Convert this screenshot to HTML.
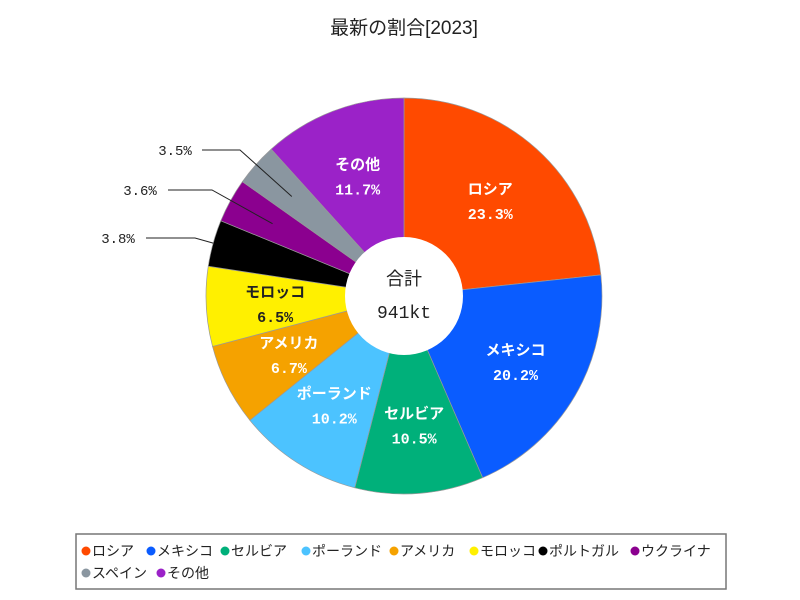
<!DOCTYPE html>
<html><head><meta charset="utf-8">
<style>
body{margin:0;background:#fff;font-family:"Liberation Sans","Noto Sans CJK JP",sans-serif;}
#wrap{position:relative;width:800px;height:600px;overflow:hidden;}
</style></head>
<body>
<div id="wrap">
<svg id="svg" width="800" height="600" xmlns="http://www.w3.org/2000/svg">
<text x="404" y="34" text-anchor="middle" font-size="19" fill="#222" font-family="Liberation Sans, Noto Sans CJK JP, sans-serif">最新の割合[2023]</text>
<g id="slices"></g>
<circle cx="404" cy="296" r="59" fill="#fff"/>
<text x="404" y="285" text-anchor="middle" font-size="18" fill="#222" font-family="Liberation Sans, Noto Sans CJK JP, sans-serif">合計</text>
<text x="404" y="318" text-anchor="middle" font-size="18" fill="#222" font-family="Liberation Mono, monospace">941kt</text>
<g id="labels"></g>
<rect x="76" y="534" width="650" height="55" fill="#fff" stroke="#777" stroke-width="1.5"/>
<g id="legend"></g>
</svg>
</div>
<script>
const categories=["ロシア","メキシコ","セルビア","ポーランド","アメリカ","モロッコ","ポルトガル","ウクライナ","スペイン","その他"];
const values=[23.3,20.2,10.5,10.2,6.7,6.5,3.8,3.6,3.5,11.7];
const colors=["#ff4a00","#0a5cff","#00b07a","#4cc3ff","#f5a200","#fff000","#000000","#8b008f","#8a96a0","#9b22c8"];
const ns="http://www.w3.org/2000/svg";
const cx=404,cy=296,R=198,LR=129;
const slices=document.getElementById('slices'),labels=document.getElementById('labels'),legend=document.getElementById('legend');
const total=values.reduce((a,b)=>a+b,0);
function pt(a,r){return [cx+r*Math.sin(a),cy-r*Math.cos(a)];}
let a0=0;
const outside=[[175,150,202,240,150],[140,190,168,212,190],[118,238,146,195,238]];
let oi=0;
values.forEach((v,i)=>{
  const a1=a0+v/total*2*Math.PI;
  const p0=pt(a0,R),p1=pt(a1,R);
  const path=document.createElementNS(ns,'path');
  path.setAttribute('d',`M${cx},${cy}L${p0[0]},${p0[1]}A${R},${R} 0 ${a1-a0>Math.PI?1:0} 1 ${p1[0]},${p1[1]}Z`);
  path.setAttribute('fill',colors[i]);
  path.setAttribute('stroke','#999');
  path.setAttribute('stroke-width','0.7');
  
  
  slices.appendChild(path);
  const am=(a0+a1)/2;
  const dark=(i===5);
  if(v>=5){
    const m=pt(am,LR);
    [[categories[i],m[0],m[1]-6],[v.toFixed(1)+'%',m[0],m[1]+19]].forEach((t,k)=>{
      const tx=document.createElementNS(ns,'text');
      tx.setAttribute('x',t[1]);tx.setAttribute('y',t[2]);
      tx.setAttribute('text-anchor','middle');
      tx.setAttribute('font-size','15');
      tx.setAttribute('font-weight','bold');
      tx.setAttribute('fill',dark?'#222':'#fff');
      tx.setAttribute('font-family',k?'Liberation Mono, monospace':'Liberation Sans, Noto Sans CJK JP, sans-serif');
      tx.textContent=t[0];
      
      
      labels.appendChild(tx);
    });
  } else {
    const o=outside[[6,7,8].indexOf(i)===-1?0:2-[6,7,8].indexOf(i)];
    const inner=pt(am,i===6?R:150);
    const ln=document.createElementNS(ns,'polyline');
    ln.setAttribute('points',`${o[2]},${o[4]} ${o[3]},${o[4]} ${inner[0]},${inner[1]}`);
    ln.setAttribute('fill','none');ln.setAttribute('stroke','#222');ln.setAttribute('stroke-width','1');
    
    
    labels.appendChild(ln);
    const tx=document.createElementNS(ns,'text');
    tx.setAttribute('x',o[0]);tx.setAttribute('y',o[1]+5);
    tx.setAttribute('text-anchor','middle');tx.setAttribute('font-size','14');tx.setAttribute('fill','#222');
    tx.setAttribute('font-family','Liberation Mono, monospace');
    tx.textContent=v.toFixed(1)+'%';
    
    
    labels.appendChild(tx);
  }
  a0=a1;
});
const lx=[81,146,220,301,389,469,538,630,81,156];
const ly=[551,551,551,551,551,551,551,551,573,573];
categories.forEach((c,i)=>{
  const g=document.createElementNS(ns,'g');
  
  
  const d=document.createElementNS(ns,'circle');
  d.setAttribute('cx',lx[i]+5);d.setAttribute('cy',ly[i]);d.setAttribute('r','4.5');d.setAttribute('fill',colors[i]);
  
  
  const t=document.createElementNS(ns,'text');
  t.setAttribute('x',lx[i]+11);t.setAttribute('y',ly[i]+5);t.setAttribute('font-size','14');t.setAttribute('fill','#222');
  t.setAttribute('font-family','Liberation Sans, Noto Sans CJK JP, sans-serif');
  t.textContent=c;
  
  
  g.appendChild(d);g.appendChild(t);legend.appendChild(g);
});
</script>
</body></html>
